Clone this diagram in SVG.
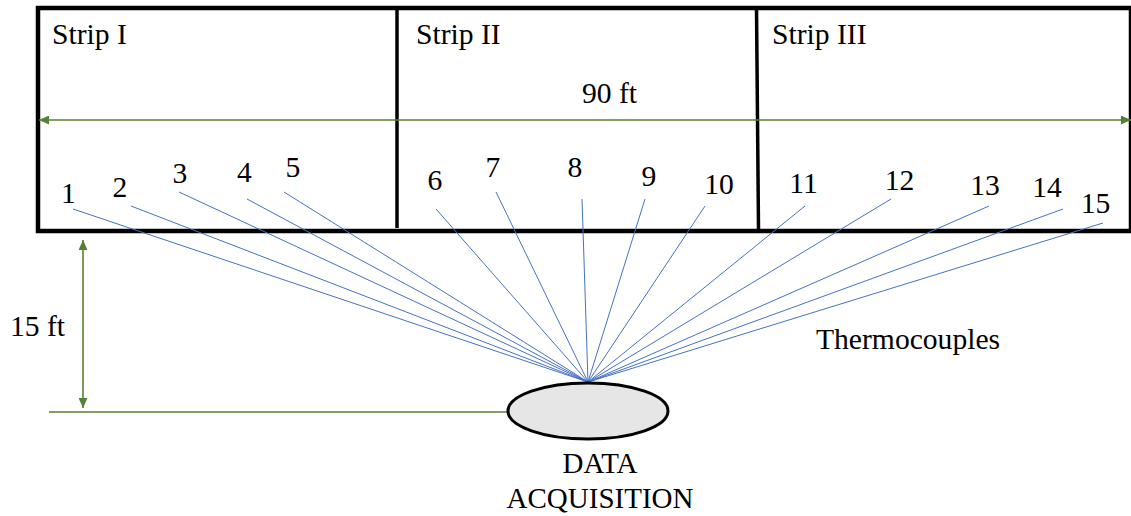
<svg xmlns="http://www.w3.org/2000/svg" width="1131" height="516" viewBox="0 0 1131 516">
<style>
text{font-family:"Liberation Serif","Times New Roman",serif;font-size:29.6px;fill:#000}
.num{text-anchor:middle}
.wire{stroke:#4472C4;stroke-width:1;fill:none}
.dim{stroke:#548235;stroke-width:1.6;fill:none}
.border{stroke:#000;stroke-width:4.5;fill:none}
</style>
<defs>
<marker id="ah" viewBox="0 0 10 9" markerWidth="10" markerHeight="9" refX="10" refY="4.5" orient="auto-start-reverse" markerUnits="userSpaceOnUse">
<path d="M0,0 L10,4.5 L0,9 z" fill="#548235"/>
</marker>
</defs>
<rect width="1131" height="516" fill="#fff"/>
<g id="field">
<rect class="border" x="38" y="8" width="1093" height="223"/>
<line x1="397" y1="8" x2="397" y2="228" stroke="#000" stroke-width="3.5"/>
<line x1="756.5" y1="8" x2="758.5" y2="229" stroke="#000" stroke-width="3.5"/>
</g>
<g id="strip1"><text x="52" y="44">Strip I</text></g>
<g id="strip2"><text x="416" y="44">Strip II</text></g>
<g id="strip3"><text x="772" y="44">Strip III</text></g>
<g id="connectors">
<line class="wire" x1="73" y1="209" x2="588" y2="382"/>
<line class="wire" x1="131" y1="206" x2="588" y2="382"/>
<line class="wire" x1="179" y1="192" x2="588" y2="382"/>
<line class="wire" x1="247" y1="199" x2="588" y2="382"/>
<line class="wire" x1="284" y1="192" x2="588" y2="382"/>
<line class="wire" x1="436" y1="209" x2="588" y2="382"/>
<line class="wire" x1="496" y1="192" x2="588" y2="382"/>
<line class="wire" x1="582" y1="199" x2="588" y2="382"/>
<line class="wire" x1="645" y1="199" x2="588" y2="382"/>
<line class="wire" x1="705" y1="206" x2="588" y2="382"/>
<line class="wire" x1="805" y1="206" x2="588" y2="382"/>
<line class="wire" x1="891" y1="199" x2="588" y2="382"/>
<line class="wire" x1="989" y1="206" x2="588" y2="382"/>
<line class="wire" x1="1063" y1="209" x2="588" y2="382"/>
<line class="wire" x1="1103" y1="223" x2="588" y2="382"/>
</g>
<g id="dimensions">
<line class="dim" x1="39" y1="120" x2="1131" y2="120" marker-start="url(#ah)" marker-end="url(#ah)"/>
<line class="dim" x1="83" y1="240" x2="83" y2="408" marker-start="url(#ah)" marker-end="url(#ah)"/>
<line class="dim" x1="49" y1="412" x2="508" y2="412"/>
<text x="582" y="103">90 ft</text>
<text x="10" y="336">15 ft</text>
</g>
<g id="labels">
<text class="num" x="68.5" y="203">1</text>
<text class="num" x="120" y="197">2</text>
<text class="num" x="180" y="183">3</text>
<text class="num" x="244.5" y="182">4</text>
<text class="num" x="293" y="177">5</text>
<text class="num" x="435" y="190">6</text>
<text class="num" x="493" y="177">7</text>
<text class="num" x="575" y="177">8</text>
<text class="num" x="649" y="186">9</text>
<text class="num" x="719" y="194">10</text>
<text class="num" x="803.5" y="193">11</text>
<text class="num" x="899.5" y="190">12</text>
<text class="num" x="985" y="195">13</text>
<text class="num" x="1047" y="197">14</text>
<text class="num" x="1095.5" y="213">15</text>
<text x="816" y="349">Thermocouples</text>
</g>
<g id="data-acquisition">
<ellipse cx="588" cy="411" rx="80" ry="28" fill="#e6e6e6" stroke="#000" stroke-width="3"/>
<text x="600" y="473" text-anchor="middle" textLength="75" lengthAdjust="spacingAndGlyphs">DATA</text>
<text x="600" y="508" text-anchor="middle" textLength="187" lengthAdjust="spacingAndGlyphs">ACQUISITION</text>
</g>
</svg>
